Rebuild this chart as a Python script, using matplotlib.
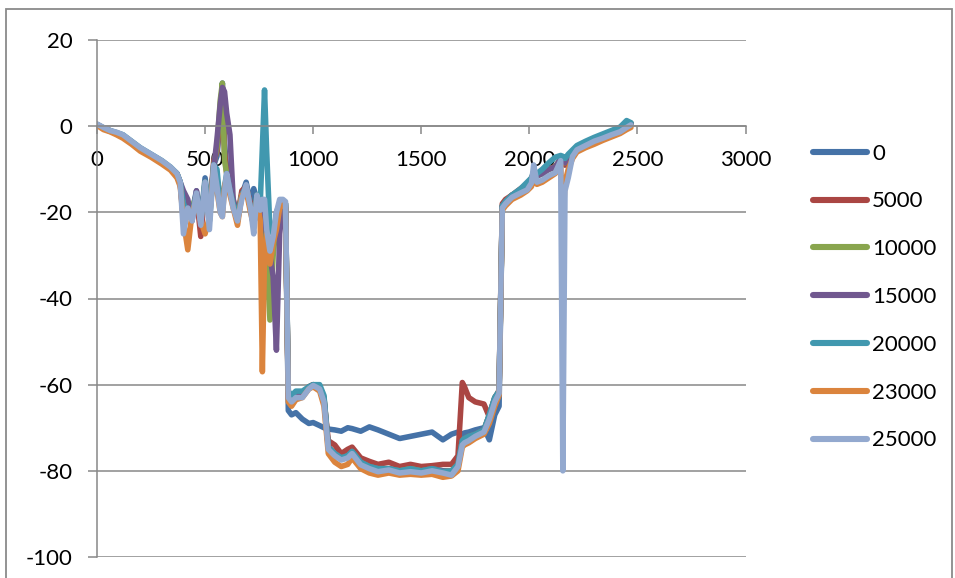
import matplotlib
matplotlib.use("Agg")
import matplotlib.pyplot as plt
from matplotlib.patches import Rectangle

plt.rcParams['font.family'] = ['Lato', 'DejaVu Sans']

# shared x positions (distance)
X = [0, 30, 60, 90, 120, 160, 200, 250, 300, 340,
     370, 385, 400, 420, 440, 460, 480, 500, 520, 540,
     555, 570, 580, 590, 600, 615, 630, 650, 670, 690,
     710, 725, 740, 755, 765, 775, 785, 800, 815, 830,
     845, 860, 872, 885, 900, 920, 950, 980, 1000, 1030,
     1050, 1070, 1100, 1130, 1160, 1180, 1220, 1260, 1300, 1350,
     1400, 1450, 1500, 1550, 1600, 1640, 1670, 1690, 1700, 1720,
     1750, 1790, 1815, 1840, 1860, 1875, 1890, 1920, 1960, 1990,
     2010, 2020, 2035, 2060, 2090, 2120, 2145, 2155, 2165, 2180,
     2200, 2220, 2260, 2300, 2340, 2380, 2420, 2450, 2470]

s0 = [0.3, -0.5, -1.2, -1.6, -2.2, -3.6, -5.2, -6.7, -8.3, -9.8,
      -11.2, -13, -22, -18, -20, -15, -22, -12, -20, -9,
      -7, 2, 10, -4, -10, -14, -18, -21, -16, -13,
      -18, -14.5, -17, -19, -17, -18, -26, -30, -27, -20,
      -18, -18.5, -19, -66, -67, -66.5, -68, -69, -68.8, -69.5,
      -70, -70.3, -70.5, -70.8, -70, -70.2, -70.8, -69.8, -70.5, -71.5,
      -72.5, -72, -71.5, -71, -72.8, -71.5, -71, -71.5, -71.2, -71,
      -70.5, -70, -72.8, -67, -65, -19, -17.5, -16, -15, -13.5,
      -12.5, -11.5, -11.5, -11, -10, -9.5, -8, -8.5, -9, -8,
      -6.5, -5, -4, -3.2, -2.5, -1.8, -1, 0, 0.5]

s5000 = [0.3, -0.5, -1.0, -1.8, -2.5, -3.8, -5.3, -6.8, -8.3, -9.8,
         -11.5, -13.5, -21, -18, -21, -16, -25.6, -14, -21, -8,
         -6, 3, 9, -6, -11, -14, -17, -21, -15, -14,
         -18, -22, -17, -20, -18, -19, -27, -31, -28, -22,
         -18, -18, -18.5, -63, -64.5, -63, -62.5, -60.5, -60, -61,
         -63.5, -73, -74, -76, -75, -74.5, -77, -77.8, -78.5, -78,
         -79, -78.5, -79, -78.8, -78.5, -78.5, -76.5, -59.5, -60.5, -63,
         -64, -64.5, -67.5, -65, -61, -18, -17, -16, -14.5, -13.5,
         -12, -11, -11.5, -11, -10, -9.3, -8, -8, -9, -8,
         -6.5, -5, -4, -3, -2.3, -1.6, -0.8, 0.3, 0.6]

s10000 = [0.4, -0.4, -1.1, -1.5, -2.1, -3.6, -5.1, -6.6, -8.1, -9.6,
          -11, -13, -20, -21, -19, -16, -22, -13, -22, -9,
          -5, 6, 10, -8, -11, -15, -18, -21, -16, -14,
          -19, -23, -16, -20, -19, -22, -30, -45, -30, -22,
          -18, -18, -18, -62, -63.5, -62, -62, -60.5, -60, -60.5,
          -63, -74.5, -76, -77, -76.5, -75.5, -78, -79, -79.5, -79.5,
          -80, -79.5, -80, -79.5, -80, -80, -78.5, -73, -72.5, -72,
          -71.5, -70.5, -67, -63, -61.5, -18.5, -17.5, -16, -15, -14,
          -12.5, -11, -11.5, -11, -10, -9.5, -7.5, -8, -8.5, -7.5,
          -6, -4.8, -3.8, -3, -2.3, -1.5, -0.8, 0.4, 0.7]

s15000 = [0.4, -0.5, -1.1, -1.6, -2.2, -3.7, -5.2, -6.7, -8.2, -9.7,
          -11, -13, -15, -17, -22, -15, -21, -14, -20, -10,
          -3, 5, 9, 8, 3, -2, -17, -22, -16, -14,
          -19, -23, -17, -20, -18, -20, -26, -30, -35, -52,
          -25, -18, -18, -62, -63.5, -62, -62, -60.5, -60, -60.5,
          -63, -74.5, -76, -77, -76.5, -75.5, -78, -79, -79.5, -79.5,
          -80, -79.8, -80, -79.5, -80, -80.2, -78.5, -73, -72.5, -72,
          -71.5, -70.5, -67, -63, -61.5, -18.5, -17.5, -16, -15, -14,
          -12.5, -11, -11.5, -11, -10, -9.5, -7.5, -8, -8.5, -7.5,
          -6, -4.8, -3.8, -3, -2.3, -1.5, -0.8, 0.5, 0.7]

s20000 = [0.4, -0.4, -1.0, -1.5, -2.0, -3.5, -5.0, -6.5, -8.0, -9.5,
          -11, -13, -18, -20, -20, -16, -22, -13, -22, -9,
          -10, -18, -19, -14, -11, -15, -18, -21, -16, -14,
          -19, -23, -16, -18, -5, 8.4, -6, -24, -25, -21,
          -18, -18, -18, -61.5, -62.5, -61.5, -61.5, -60.5, -60, -60,
          -62.5, -74.5, -76, -77, -76.5, -75.5, -78, -79, -79.5, -79.5,
          -80, -79.5, -80, -79.5, -80.2, -80, -78.5, -73, -72.5, -72,
          -71.5, -70.5, -67, -63, -61.5, -18.5, -17.5, -16, -14.5, -13,
          -12, -10.5, -11, -10, -8.5, -7.2, -6.8, -7, -7.5, -6.5,
          -5.5, -4.5, -3.5, -2.6, -1.8, -1, -0.2, 1.3, 0.8]

s23000 = [0.2, -0.8, -1.3, -2.0, -2.8, -4.2, -5.8, -7.2, -8.8, -10.2,
          -12, -14, -22, -28.7, -20, -17, -22, -25, -21, -10,
          -15, -20, -21, -14, -12, -16, -19, -23, -16, -15,
          -20, -23, -17, -22, -57, -30, -25, -32, -27, -24,
          -19, -18, -19, -64, -65, -63.5, -63, -61, -60.5, -61.5,
          -65, -76, -78, -79, -78.5, -77, -79.5, -80.5, -81, -80.5,
          -81, -80.8, -81, -80.8, -81.5, -81.2, -80, -74.5, -74, -73.5,
          -72.5, -71.5, -69, -65, -62.5, -19.5, -18.5, -17, -16, -15,
          -14, -12, -13.5, -13, -12, -11, -9, -23, -13, -10,
          -7.5, -6, -5, -4.2, -3.3, -2.5, -1.7, -0.8, -0.3]

s25000 = [0.5, -0.3, -1.0, -1.4, -2.0, -3.5, -5.0, -6.5, -8.0, -9.5,
          -11, -13, -25, -19, -22, -15.5, -23, -13, -24, -9,
          -14, -20, -21, -15, -11, -15, -19, -22, -17, -13.6,
          -19, -25, -16, -19.5, -17, -17, -24, -29, -25.6, -20,
          -17, -17, -17.5, -63, -64, -63, -63, -61, -60.2, -61,
          -64, -75, -76.5, -77.5, -77, -76, -78.6, -79.5, -80.2, -79.8,
          -80.5, -80.2, -80.5, -80, -80.5, -81, -79, -74, -73.5, -73,
          -72, -71, -68, -64, -62, -19, -18, -16.5, -15.5, -14.8,
          -13.2, -9, -13, -12.5, -11.5, -10.8, -8, -80, -15, -12,
          -7, -5.5, -4.5, -3.5, -2.8, -2, -1.3, -0.3, 0.3]

labels = ['0', '5000', '10000', '15000', '20000', '23000', '25000']
colors = ['#4572A7', '#AA4643', '#89A54E', '#71588F', '#4198AF', '#DB843D', '#93A9CF']
series = [s0, s5000, s10000, s15000, s20000, s23000, s25000]

fig = plt.figure(figsize=(9.55, 5.78), dpi=100)
ax = fig.add_axes([97 / 955, 1 - 557 / 578, (745.5 - 97) / 955, (557 - 40) / 578])

grid_c = '#888888'
for ys, lab, c in zip(series, labels, colors):
    ax.plot(X, ys, color=c, lw=4.0, label=lab,
            solid_joinstyle='round', solid_capstyle='round')

ax.set_xlim(0, 3000)
ax.set_ylim(-100, 20)
ax.set_xticks(range(0, 3001, 500))
ax.set_yticks(range(-100, 21, 20))
ax.grid(axis='y', color=grid_c, lw=1.1)
ax.set_axisbelow(True)

ax.spines['top'].set_visible(False)
ax.spines['right'].set_visible(False)
ax.spines['bottom'].set_position(('data', 0))
ax.spines['bottom'].set_color(grid_c)
ax.spines['left'].set_color(grid_c)
ax.spines['bottom'].set_linewidth(1.1)
ax.spines['left'].set_linewidth(1.1)
ax.tick_params(axis='x', direction='out', length=6, width=1.1, color=grid_c,
               labelsize=16, pad=11)
ax.tick_params(axis='y', direction='out', length=6.5, width=1.1, color=grid_c,
               labelsize=16, pad=11)
ax.set_yticklabels(['-100', '-80', '-60', '-40', '-20', '0', '20'])

leg = fig.legend(loc='center left', bbox_to_anchor=(813 / 955, 1 - 297 / 578),
                 frameon=False, fontsize=16, borderpad=0, borderaxespad=0,
                 handlelength=2.45, handletextpad=0.2, labelspacing=1.25)
for h in leg.get_lines():
    h.set_linewidth(4.4)
    h.set_solid_capstyle('round')

fig.patches.append(Rectangle((6 / 955, -0.1), (952 - 6) / 955, 1.1 - 9 / 578,
                             transform=fig.transFigure, fill=False,
                             edgecolor='#8a8a8a', lw=1.3))

fig.savefig('out.png', dpi=100)
